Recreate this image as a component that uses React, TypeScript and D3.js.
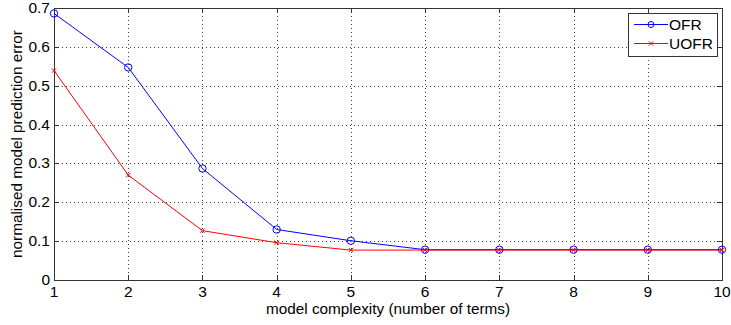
import { useEffect, useRef } from 'react'
import * as d3 from 'd3'

const WIDTH = 731
const HEIGHT = 325
const MARGIN = { top: 8, right: 9, bottom: 45, left: 54 }

const terms = [1, 2, 3, 4, 5, 6, 7, 8, 9, 10]
const ofrErrors = [0.686, 0.547, 0.287, 0.13, 0.101, 0.078, 0.078, 0.078, 0.078, 0.078]
const uofrErrors = [0.539, 0.27, 0.127, 0.096, 0.077, 0.077, 0.077, 0.077, 0.077, 0.077]
const yTicks = [0, 0.1, 0.2, 0.3, 0.4, 0.5, 0.6, 0.7]

const FONT = 'Liberation Sans, Arial, sans-serif'

export default function App() {
  const svgRef = useRef<SVGSVGElement>(null)

  useEffect(() => {
    const svg = d3.select(svgRef.current)
    svg.selectAll('*').remove()

    const x = d3.scaleLinear().domain([1, 10]).range([MARGIN.left, WIDTH - MARGIN.right])
    const y = d3.scaleLinear().domain([0, 0.7]).range([HEIGHT - MARGIN.bottom, MARGIN.top])
    const [x0, x1] = x.range()
    const [y0, y1] = y.range()

    svg.append('rect').attr('width', WIDTH).attr('height', HEIGHT).attr('fill', '#fff')

    // dotted grid
    const grid = svg.append('g').attr('stroke', '#444').attr('stroke-width', 1).attr('stroke-dasharray', '1 3')
    grid
      .selectAll('line.v')
      .data(terms.slice(1, -1))
      .join('line')
      .attr('x1', (d) => Math.round(x(d)) + 0.5)
      .attr('x2', (d) => Math.round(x(d)) + 0.5)
      .attr('y1', y1)
      .attr('y2', y0)
    grid
      .selectAll('line.h')
      .data(yTicks.slice(1, -1))
      .join('line')
      .attr('x1', x0)
      .attr('x2', x1)
      .attr('y1', (d) => Math.round(y(d)) + 0.5)
      .attr('y2', (d) => Math.round(y(d)) + 0.5)

    // box
    svg
      .append('rect')
      .attr('x', x0 + 0.5)
      .attr('y', y1 + 0.5)
      .attr('width', x1 - x0)
      .attr('height', y0 - y1)
      .attr('fill', 'none')
      .attr('stroke', '#333')

    // inward ticks on all four sides
    const ticks = svg.append('g').attr('stroke', '#333')
    terms.forEach((t) => {
      const px = Math.round(x(t)) + 0.5
      ticks.append('line').attr('x1', px).attr('x2', px).attr('y1', y0).attr('y2', y0 - 5)
      ticks.append('line').attr('x1', px).attr('x2', px).attr('y1', y1).attr('y2', y1 + 5)
    })
    yTicks.forEach((t) => {
      const py = Math.round(y(t)) + 0.5
      ticks.append('line').attr('x1', x0).attr('x2', x0 + 5).attr('y1', py).attr('y2', py)
      ticks.append('line').attr('x1', x1).attr('x2', x1 - 5).attr('y1', py).attr('y2', py)
    })

    // tick labels
    svg
      .append('g')
      .selectAll('text')
      .data(terms)
      .join('text')
      .attr('x', (d) => x(d))
      .attr('y', y0 + 17)
      .attr('text-anchor', 'middle')
      .attr('font-family', FONT)
      .attr('font-size', 15.5)
      .attr('fill', '#000')
      .text((d) => d)
    svg
      .append('g')
      .selectAll('text')
      .data(yTicks)
      .join('text')
      .attr('x', x0 - 4)
      .attr('y', (d) => y(d) + 5)
      .attr('text-anchor', 'end')
      .attr('font-family', FONT)
      .attr('font-size', 15.5)
      .attr('fill', '#000')
      .text((d) => (d === 0 ? '0' : d3.format('.1f')(d)))

    // axis titles
    svg
      .append('text')
      .attr('x', (x0 + x1) / 2)
      .attr('y', y0 + 34)
      .attr('text-anchor', 'middle')
      .attr('font-family', FONT)
      .attr('font-size', 15.3)
      .text('model complexity (number of terms)')
    svg
      .append('text')
      .attr('transform', `translate(22,${(y0 + y1) / 2}) rotate(-90)`)
      .attr('text-anchor', 'middle')
      .attr('font-family', FONT)
      .attr('font-size', 15.3)
      .text('normalised model prediction error')

    const line = d3
      .line<number>()
      .x((_, i) => x(terms[i]))
      .y((d) => y(d))

    // OFR
    svg.append('path').datum(ofrErrors).attr('fill', 'none').attr('stroke', '#0000ff').attr('d', line)
    svg
      .append('g')
      .selectAll('circle')
      .data(ofrErrors)
      .join('circle')
      .attr('cx', (_, i) => x(terms[i]))
      .attr('cy', (d) => y(d))
      .attr('r', 3.7)
      .attr('fill', 'none')
      .attr('stroke', '#0000ff')

    // UOFR
    svg.append('path').datum(uofrErrors).attr('fill', 'none').attr('stroke', '#ff0000').attr('d', line)
    const cross = (g: d3.Selection<SVGGElement, unknown, null, undefined>, cx: number, cy: number) => {
      g.append('path')
        .attr('d', `M${cx - 2.2},${cy - 2.2}L${cx + 2.2},${cy + 2.2}M${cx - 2.2},${cy + 2.2}L${cx + 2.2},${cy - 2.2}`)
        .attr('stroke', '#ff0000')
    }
    const crosses = svg.append('g')
    uofrErrors.forEach((d, i) => cross(crosses, x(terms[i]), y(d)))

    // legend
    const lg = svg.append('g')
    lg.append('rect')
      .attr('x', 628.5)
      .attr('y', 13.5)
      .attr('width', 89)
      .attr('height', 43)
      .attr('fill', '#fff')
      .attr('stroke', '#333')
    lg.append('line').attr('x1', 634).attr('x2', 668).attr('y1', 24.5).attr('y2', 24.5).attr('stroke', '#0000ff')
    lg.append('circle').attr('cx', 651).attr('cy', 24.5).attr('r', 3).attr('fill', 'none').attr('stroke', '#0000ff')
    lg.append('line').attr('x1', 634).attr('x2', 668).attr('y1', 43.5).attr('y2', 43.5).attr('stroke', '#ff0000')
    cross(lg, 651, 43.5)
    lg.append('text')
      .attr('x', 669)
      .attr('y', 30)
      .attr('font-family', FONT)
      .attr('font-size', 15.5)
      .text('OFR')
    lg.append('text')
      .attr('x', 669)
      .attr('y', 49)
      .attr('font-family', FONT)
      .attr('font-size', 15.5)
      .text('UOFR')
  }, [])

  return <svg ref={svgRef} width={WIDTH} height={HEIGHT} style={{ display: 'block', position: 'absolute', left: 0, top: 0 }} />
}
